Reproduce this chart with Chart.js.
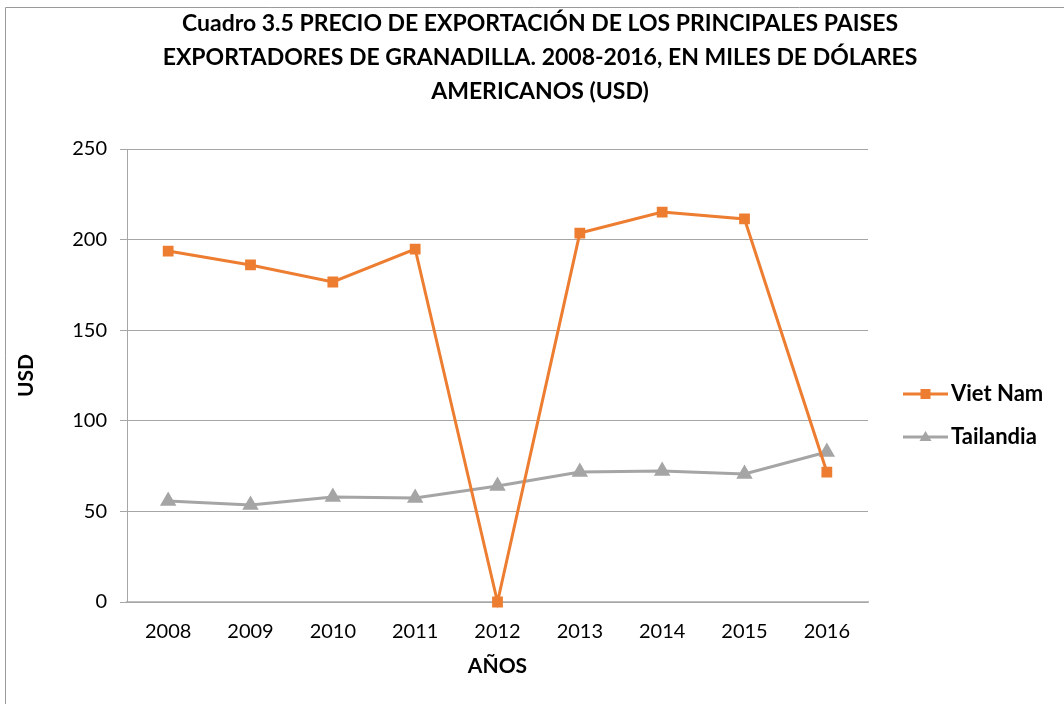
<!DOCTYPE html>
<html>
<head>
<meta charset="utf-8">
<script src="https://cdn.jsdelivr.net/npm/chart.js@4.4.0/dist/chart.umd.min.js"></script>
<style>
  html, body { margin: 0; padding: 0; background: #fff; }
  #wrap { width: 1064px; height: 704px; position: relative; }
</style>
</head>
<body>
<div id="wrap"><canvas id="chart" width="1064" height="704"></canvas></div>
<script>
// datos
var years = ['2008', '2009', '2010', '2011', '2012', '2013', '2014', '2015', '2016'];
var vietNam = [193.7, 186, 176.6, 194.8, 0, 203.6, 215.2, 211.4, 71.7];
var tailandia = [55.7, 53.5, 58, 57.4, 64, 71.7, 72.3, 70.6, 82.8];
var yTicks = [0, 50, 100, 150, 200, 250];
var titleLines = [
    'Cuadro 3.5 PRECIO DE EXPORTACIÓN DE LOS PRINCIPALES PAISES',
    'EXPORTADORES DE GRANADILLA. 2008-2016, EN MILES DE DÓLARES',
    'AMERICANOS (USD)'
];

var FONT = 'Lato, "Open Sans", sans-serif';
var ORANGE = '#ED7D31';
var GREY = '#A5A5A5';

// Titulo, marco y leyenda dibujados a mano
var decoPlugin = {
    id: 'deco',
    beforeDraw: function(chart) {
        var ctx = chart.ctx;
        ctx.save();
        ctx.strokeStyle = '#9a9a9a';
        ctx.lineWidth = 1;
        ctx.beginPath();
        ctx.moveTo(5.5, 704);
        ctx.lineTo(5.5, 7.5);
        ctx.lineTo(1064, 7.5);
        ctx.stroke();
        ctx.restore();
    },
    afterDraw: function(chart) {
        var ctx = chart.ctx;
        ctx.save();
        ctx.fillStyle = '#000';
        ctx.textAlign = 'center';
        ctx.textBaseline = 'middle';
        ctx.font = 'bold 23px ' + FONT;
        titleLines.forEach(function(t, i) {
            ctx.fillText(t, 540, 24 + i * 34);
        });

        // leyenda
        var items = [
            { text: 'Viet Nam', color: ORANGE, style: 'rect', y: 394 },
            { text: 'Tailandia', color: GREY, style: 'triangle', y: 437 }
        ];
        items.forEach(function(it) {
            ctx.strokeStyle = it.color;
            ctx.fillStyle = it.color;
            ctx.lineWidth = 3;
            ctx.beginPath();
            ctx.moveTo(903, it.y);
            ctx.lineTo(948, it.y);
            ctx.stroke();
            ctx.beginPath();
            if (it.style === 'rect') {
                ctx.rect(920.5, it.y - 5, 10, 10);
            } else {
                ctx.moveTo(925.5, it.y - 6);
                ctx.lineTo(931.5, it.y + 4);
                ctx.lineTo(919.5, it.y + 4);
                ctx.closePath();
            }
            ctx.fill();
            ctx.fillStyle = '#000';
            ctx.textAlign = 'left';
            ctx.font = 'bold 22px ' + FONT;
            ctx.fillText(it.text, 951, it.y);
        });
        ctx.restore();
    }
};

new Chart(document.getElementById('chart'), {
    type: 'line',
    data: {
        labels: years,
        datasets: [{
            label: 'Viet Nam',
            data: vietNam,
            borderColor: ORANGE,
            backgroundColor: ORANGE,
            borderWidth: 3,
            pointStyle: 'rect',
            pointRadius: 5.5,
            pointHoverRadius: 5.5,
            tension: 0,
            clip: false
        }, {
            label: 'Tailandia',
            data: tailandia,
            borderColor: GREY,
            backgroundColor: GREY,
            borderWidth: 3,
            pointStyle: 'triangle',
            pointRadius: 6.5,
            pointHoverRadius: 6.5,
            tension: 0,
            clip: false
        }]
    },
    options: {
        responsive: false,
        animation: false,
        layout: {
            padding: { top: 149, right: 196, left: 0, bottom: 0 }
        },
        plugins: {
            legend: { display: false },
            title: { display: false },
            tooltip: { enabled: false }
        },
        scales: {
            x: {
                offset: true,
                grid: { display: false, drawTicks: false },
                border: { color: '#bfbfbf', width: 2, z: -1 },
                ticks: {
                    color: '#000',
                    font: { family: FONT, size: 20 },
                    padding: 18
                },
                title: {
                    display: true,
                    text: 'AÑOS',
                    color: '#000',
                    font: { family: FONT, size: 21, weight: 'bold' },
                    padding: { top: 0, bottom: 25 }
                },
                afterFit: function(axis) {
                    axis.height = 102;
                }
            },
            y: {
                min: 0,
                max: 250,
                afterBuildTicks: function(axis) {
                    axis.ticks = yTicks.map(function(v) { return { value: v }; });
                },
                grid: {
                    color: '#a6a6a6',
                    tickLength: 7,
                    tickColor: '#a6a6a6'
                },
                border: { color: '#a6a6a6', width: 1 },
                ticks: {
                    color: '#000',
                    font: { family: FONT, size: 20 },
                    padding: 13
                },
                title: {
                    display: true,
                    text: 'USD',
                    color: '#000',
                    font: { family: FONT, size: 21, weight: 'bold' },
                    padding: { top: 14, bottom: 20 }
                },
                afterFit: function(axis) {
                    axis.width = 127;
                }
            }
        }
    },
    plugins: [decoPlugin]
});
</script>
</body>
</html>
